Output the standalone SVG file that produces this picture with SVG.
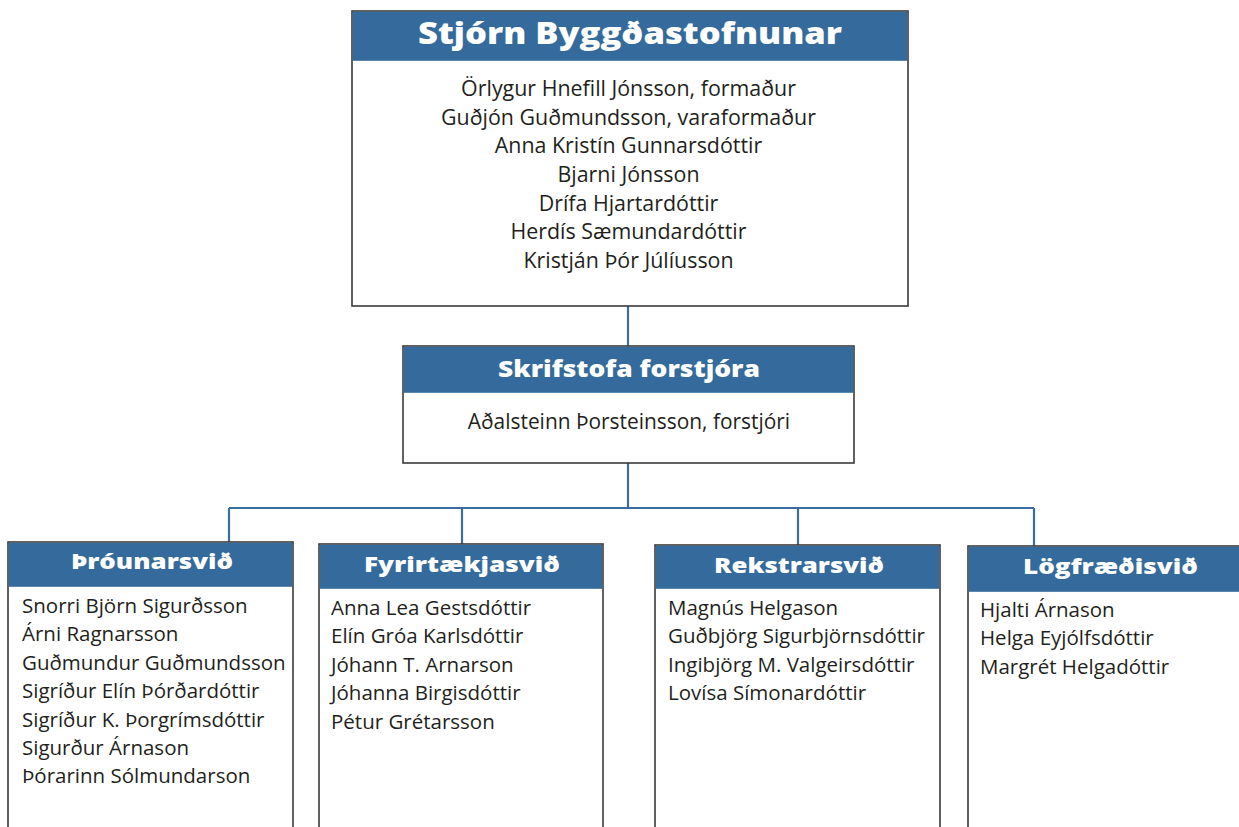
<svg xmlns="http://www.w3.org/2000/svg" width="1239" height="827" viewBox="0 0 1239 827">
<style>
.box{fill:#ffffff;stroke:#3a3a3a;stroke-width:1.6}
.hdr{fill:#356b9c}
.ht{font-family:"Open Sans","DejaVu Sans",sans-serif;font-weight:800;fill:#ffffff;text-anchor:middle}
.bt{font-family:"Open Sans","DejaVu Sans",sans-serif;font-size:20.5px;fill:#231f20}
.top{font-size:21.4px}
.mid{font-size:20.9px}
.c{text-anchor:middle}
.conn{fill:none;stroke:#3b6e9d;stroke-width:2.2}
</style>
<rect width="1239" height="827" fill="#ffffff"/>
<g id="connectors">
<path class="conn" d="M628 306V346M628 463V508M229 508H1034M229 508V542M462 508V544M798 508V545M1034 508V546"/>
</g>
<g id="stjorn">
<rect class="box" x="352" y="11" width="556" height="295"/>
<rect class="hdr" x="352.8" y="11.8" width="554.4" height="49"/>
<text class="ht" x="630" y="44" font-size="30" textLength="424" lengthAdjust="spacingAndGlyphs">Stjórn Byggðastofnunar</text>
<text class="bt top c" x="628.5" y="96">Örlygur Hnefill Jónsson, formaður</text>
<text class="bt top c" x="628.5" y="125">Guðjón Guðmundsson, varaformaður</text>
<text class="bt top c" x="628.5" y="153">Anna Kristín Gunnarsdóttir</text>
<text class="bt top c" x="628.5" y="182">Bjarni Jónsson</text>
<text class="bt top c" x="628.5" y="211">Drífa Hjartardóttir</text>
<text class="bt top c" x="628.5" y="239">Herdís Sæmundardóttir</text>
<text class="bt top c" x="628.5" y="268">Kristján Þór Júlíusson</text>
</g>
<g id="skrifstofa">
<rect class="box" x="403" y="346" width="451" height="117"/>
<rect class="hdr" x="403.8" y="346.8" width="449.4" height="46"/>
<text class="ht" x="629" y="377" font-size="22" textLength="262" lengthAdjust="spacingAndGlyphs">Skrifstofa forstjóra</text>
<text class="bt mid c" x="629" y="429">Aðalsteinn Þorsteinsson, forstjóri</text>
</g>
<g id="throunarsvid">
<rect class="box" x="8" y="542" width="285" height="300"/>
<rect class="hdr" x="8.8" y="542.8" width="283.4" height="44"/>
<text class="ht" x="152" y="569" font-size="21" textLength="162" lengthAdjust="spacingAndGlyphs">Þróunarsvið</text>
<text class="bt" x="22" y="613">Snorri Björn Sigurðsson</text>
<text class="bt" x="22" y="641.4">Árni Ragnarsson</text>
<text class="bt" x="22" y="669.8">Guðmundur Guðmundsson</text>
<text class="bt" x="22" y="698.2">Sigríður Elín Þórðardóttir</text>
<text class="bt" x="22" y="726.6">Sigríður K. Þorgrímsdóttir</text>
<text class="bt" x="22" y="755">Sigurður Árnason</text>
<text class="bt" x="22" y="783.4">Þórarinn Sólmundarson</text>
</g>
<g id="fyrirtaekjasvid">
<rect class="box" x="319" y="544" width="284" height="300"/>
<rect class="hdr" x="319.8" y="544.8" width="282.4" height="44"/>
<text class="ht" x="462" y="572" font-size="21" textLength="196" lengthAdjust="spacingAndGlyphs">Fyrirtækjasvið</text>
<text class="bt" x="331" y="615">Anna Lea Gestsdóttir</text>
<text class="bt" x="331" y="643.4">Elín Gróa Karlsdóttir</text>
<text class="bt" x="331" y="671.8">Jóhann T. Arnarson</text>
<text class="bt" x="331" y="700.2">Jóhanna Birgisdóttir</text>
<text class="bt" x="331" y="728.6">Pétur Grétarsson</text>
</g>
<g id="rekstrarsvid">
<rect class="box" x="655" y="545" width="285" height="300"/>
<rect class="hdr" x="655.8" y="545.8" width="283.4" height="43"/>
<text class="ht" x="799" y="573" font-size="21" textLength="170" lengthAdjust="spacingAndGlyphs">Rekstrarsvið</text>
<text class="bt" x="668" y="615">Magnús Helgason</text>
<text class="bt" x="668" y="643.4">Guðbjörg Sigurbjörnsdóttir</text>
<text class="bt" x="668" y="671.8">Ingibjörg M. Valgeirsdóttir</text>
<text class="bt" x="668" y="700.2">Lovísa Símonardóttir</text>
</g>
<g id="logfraedisvid">
<rect class="box" x="968" y="546" width="300" height="300"/>
<rect class="hdr" x="968.8" y="546.8" width="298.4" height="45"/>
<text class="ht" x="1110.5" y="574" font-size="21" textLength="175" lengthAdjust="spacingAndGlyphs">Lögfræðisvið</text>
<text class="bt" x="980" y="617">Hjalti Árnason</text>
<text class="bt" x="980" y="645.4">Helga Eyjólfsdóttir</text>
<text class="bt" x="980" y="673.8">Margrét Helgadóttir</text>
</g>
</svg>
